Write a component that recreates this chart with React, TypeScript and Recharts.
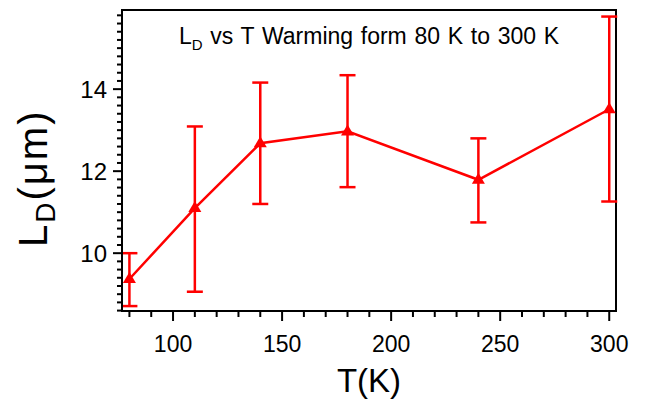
import { LineChart, Line, XAxis, YAxis, ErrorBar, ReferenceArea } from 'recharts';

const temps = [80, 110, 140, 180, 240, 300];
const ldValues = [9.37, 11.1, 12.68, 12.97, 11.79, 13.51];
const errLow = [0.66, 2.04, 1.48, 1.36, 1.04, 2.25];
const errHigh = [0.63, 1.99, 1.48, 1.37, 1.01, 2.26];

const xTicks = [80, 90, 100, 110, 120, 130, 140, 150, 160, 170, 180, 190, 200, 210, 220, 230, 240, 250, 260, 270, 280, 290, 300];
const xLabels = [100, 150, 200, 250, 300];
const yLabels = [10, 12, 14];
const yMinorStep = 0.2;
const xDomain = [76.6, 303.1];
const yDomain = [8.59, 15.93];

const yTicks: number[] = [];
for (let i = 43; i <= 79; i++) yTicks.push(Math.round(i * yMinorStep * 10) / 10);

const data = temps.map((t, i) => ({ t, ld: ldValues[i], err: [errLow[i], errHigh[i]] }));

const FONT = '"Liberation Sans", Arial, sans-serif';
const RED = '#ff0000';

const XTick = (props: any) => {
  const { x, y, payload } = props;
  const major = xLabels.includes(payload.value);
  return (
    <g>
      <line x1={x} x2={x} y1={y} y2={y + (major ? 10 : 6)} stroke="#000" strokeWidth={2} />
      {major && (
        <text x={x} y={y + 41} textAnchor="middle" fontSize={23} fontFamily={FONT} fill="#000">
          {payload.value}
        </text>
      )}
    </g>
  );
};

const YTick = (props: any) => {
  const { x, y, payload } = props;
  const major = yLabels.some((v) => Math.abs(v - payload.value) < 1e-6);
  return (
    <g>
      <line x1={x} x2={x - (major ? 9 : 5)} y1={y} y2={y} stroke="#000" strokeWidth={2} />
      {major && (
        <text x={x - 15} y={y + 8.5} textAnchor="end" fontSize={24} fontFamily={FONT} fill="#000">
          {payload.value}
        </text>
      )}
    </g>
  );
};

const Triangle = (props: any) => {
  const { cx, cy } = props;
  if (cx == null || cy == null) return null;
  return <path d={`M${cx},${cy - 7} L${cx + 6.5},${cy + 4} L${cx - 6.5},${cy + 4} Z`} fill={RED} />;
};

const TitleLabel = () => (
  <text x={179} y={44} fontSize={23} fontFamily={FONT} fill="#000" wordSpacing={1.3}>
    L<tspan fontSize={15} dy={5.5}>D</tspan>
    <tspan dy={-5.5}> vs T Warming form 80 K to 300 K</tspan>
  </text>
);

const YTitle = () => (
  <text transform="rotate(-90, 47, 247)" x={47} y={247} fontSize={40} fontFamily={FONT} fill="#000" letterSpacing={2}>
    L<tspan fontSize={28} dy={8}>D</tspan>
    <tspan dy={-8}>(μm)</tspan>
  </text>
);

const XTitle = () => (
  <text x={369} y={392} textAnchor="middle" fontSize={33} fontFamily={FONT} fill="#000">
    T(K)
  </text>
);

export default function App() {
  return (
    <div style={{ position: 'absolute', left: 0, top: 0, width: 647, height: 403, background: '#fff' }}>
      <LineChart width={647} height={403} data={data} margin={{ top: 10, right: 31, bottom: 0, left: 0 }}>
        <XAxis
          dataKey="t"
          type="number"
          domain={xDomain}
          ticks={xTicks}
          tick={<XTick />}
          tickSize={0}
          tickMargin={0}
          height={92}
          axisLine={{ stroke: '#000', strokeWidth: 2 }}
          interval={0}
          allowDataOverflow
          label={{ content: <XTitle /> }}
        />
        <YAxis
          type="number"
          domain={yDomain}
          ticks={yTicks}
          tick={<YTick />}
          tickSize={0}
          tickMargin={0}
          width={122}
          interval={0}
          allowDataOverflow
          axisLine={{ stroke: '#000', strokeWidth: 2 }}
          label={{ content: <YTitle /> }}
        />
        <ReferenceArea
          x1={xDomain[0]}
          x2={xDomain[1]}
          y1={yDomain[0]}
          y2={yDomain[1]}
          fill="none"
          stroke="#000"
          strokeWidth={2}
          ifOverflow="visible"
          label={{ content: <TitleLabel /> }}
        />
        <Line
          dataKey="ld"
          stroke={RED}
          strokeWidth={2.5}
          dot={<Triangle />}
          activeDot={false}
          isAnimationActive={false}
        >
          <ErrorBar dataKey="err" direction="y" width={8} stroke={RED} strokeWidth={2.5} />
        </Line>
      </LineChart>
    </div>
  );
}
